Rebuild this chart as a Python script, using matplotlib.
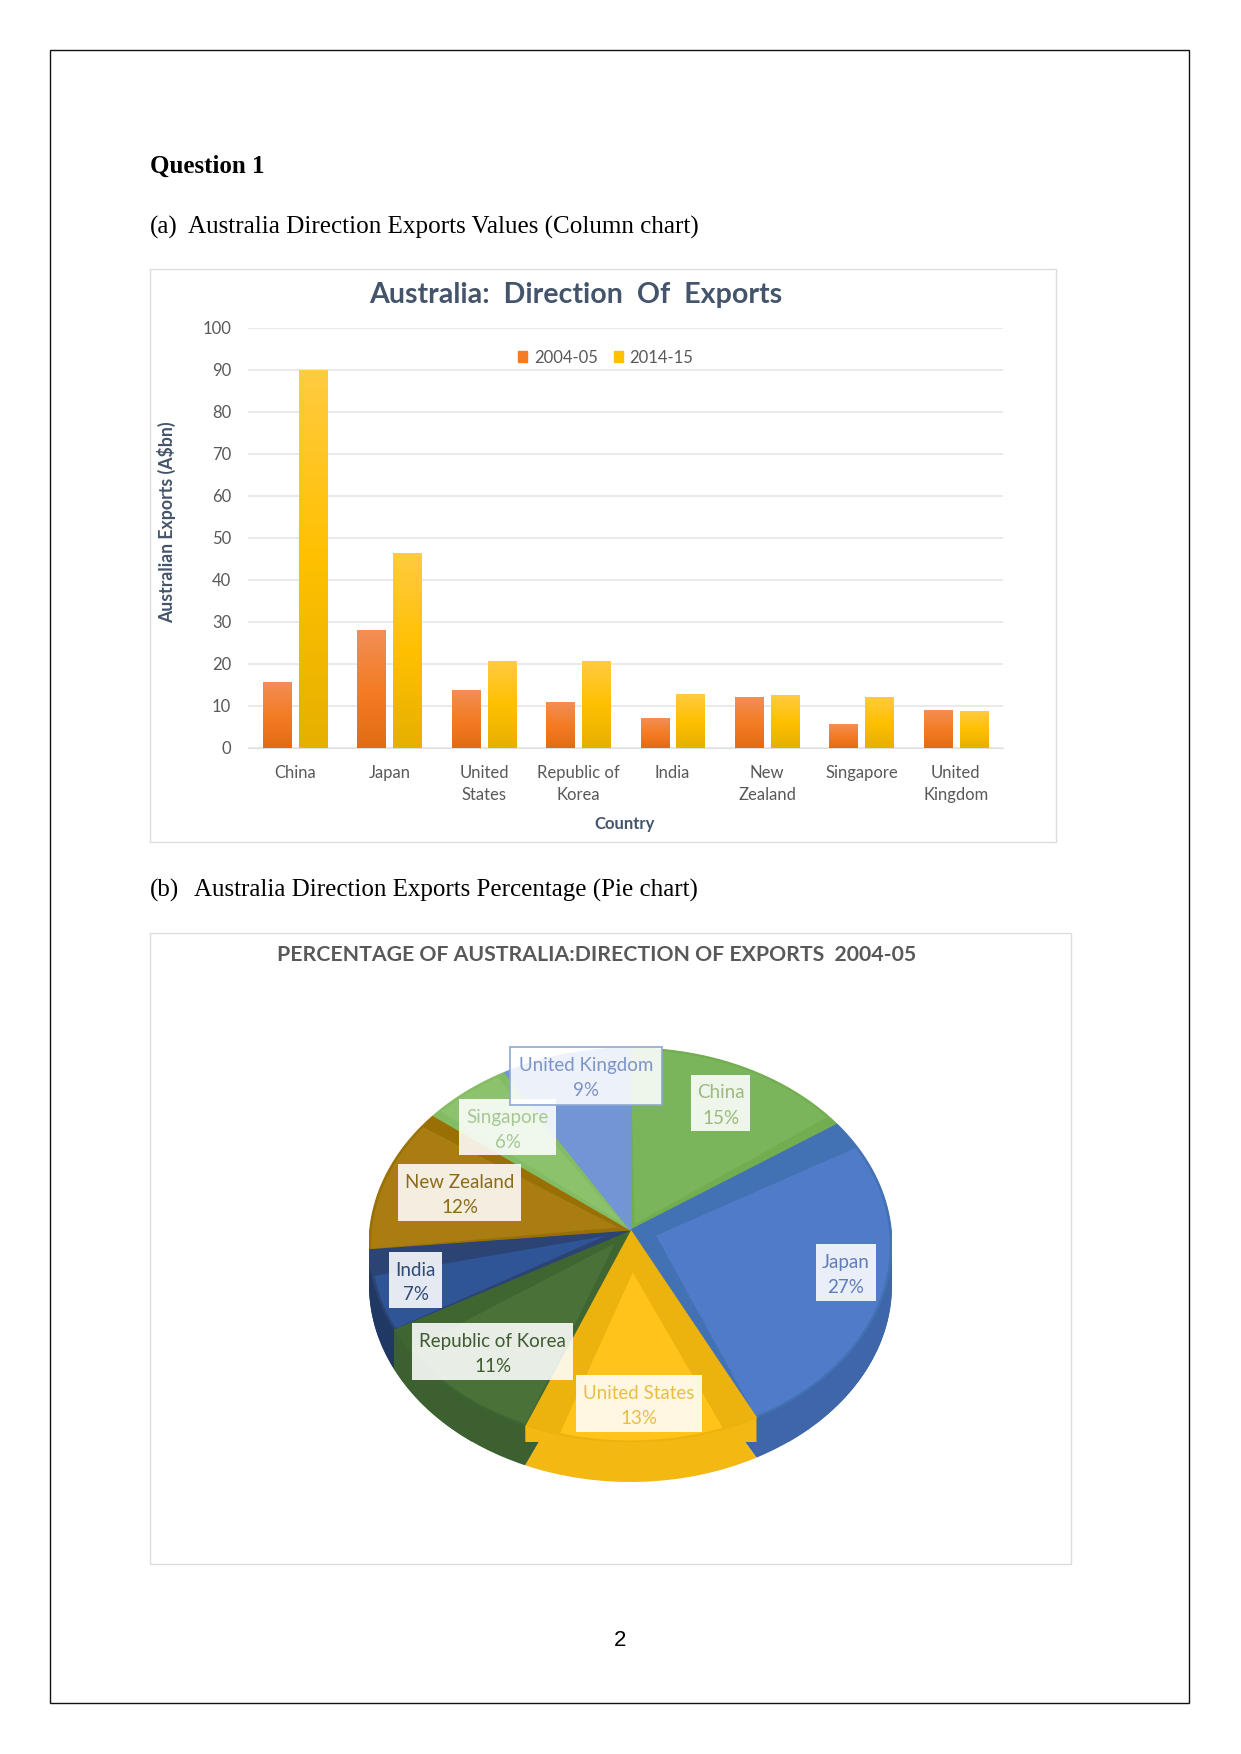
"""Page with a column chart and a faux-3D pie of Australian exports."""
import matplotlib
matplotlib.use("Agg")
import matplotlib.pyplot as plt
import numpy as np
from matplotlib.colors import LinearSegmentedColormap
from matplotlib.patches import Patch, Rectangle

W, H = 1241, 1754

countries = ["China", "Japan", "United\nStates", "Republic of\nKorea", "India",
             "New\nZealand", "Singapore", "United\nKingdom"]
exports_2004 = [15.7, 28.0, 13.8, 10.8, 7.1, 12.0, 5.6, 9.0]
exports_2014 = [90.0, 46.3, 20.5, 20.5, 12.7, 12.4, 12.0, 8.6]
year_labels = ["2004-05", "2014-15"]
y_ticks = list(range(0, 101, 10))

pie_names = ["China", "Japan", "United States", "Republic of Korea", "India",
             "New Zealand", "Singapore", "United Kingdom"]
pie_percent = ["15%", "27%", "13%", "11%", "7%", "12%", "6%", "9%"]
pie_shares = [14.5, 27.5, 14.6, 11.4, 6.7, 11.7, 5.6, 8.0]

# Slice colours: inner face, bevel band, side wall, label text
face_colors = ["#7AB55C", "#4F7BC8", "#FFC31A", "#4A7238", "#2F5597", "#A97D12", "#8CC26C", "#7295D5"]
band_colors = ["#72AE50", "#4272B4", "#ECB30E", "#3F6630", "#2B4474", "#9A7006", "#84BC63", "#7295D5"]
wall_colors = ["#5F9440", "#3F66A8", "#F3B912", "#3D6030", "#1F3864", "#7F5E08", "#70A050", "#5A7DBA"]
text_colors = ["#9DB97F", "#5F7DB9", "#E9BE45", "#3F5B30", "#2F4A78", "#8B6A18", "#A6C892", "#7C94C6"]

# Bevel width in degrees at each slice's leading and trailing edge (clockwise)
bevel_start = [0, 8, 8, 0, 0, 0, 2, 0]
bevel_end = [3, 0, 8, 7, 8, 4, 2, 0]

# Label boxes in page pixels: left, right, top, bottom
label_boxes = [(691, 750, 1075, 1131), (816, 876, 1244, 1301), (576, 702, 1375, 1432),
               (412, 573, 1323, 1380), (389, 442, 1252, 1308), (398, 521, 1164, 1221),
               (459, 556, 1099, 1155), (510, 662, 1047, 1105)]

GREY = "#595959"
UI_FONT = ["Lato", "DejaVu Sans"]
SERIF = ["Liberation Serif", "DejaVu Serif"]


def px_axes(fig, left, right, top, bottom, **kw):
    return fig.add_axes([left / W, 1 - bottom / H, (right - left) / W, (bottom - top) / H], **kw)


def gradient_bar(ax, bar, cmap):
    x, w, h = bar.get_x(), bar.get_width(), bar.get_height()
    ax.imshow(np.linspace(0, 1, 64).reshape(-1, 1), cmap=cmap, aspect="auto",
              extent=(x, x + w, 0, h), origin="upper", zorder=3)


def rim(theta, r=1.0, drop=0.0):
    # theta in degrees clockwise from twelve o'clock
    t = np.radians(theta)
    return r * np.sin(t), r * np.cos(t) - drop


def draw_column_chart(fig):
    ax = px_axes(fig, 248, 1003, 328, 748)
    ax.patch.set_alpha(0)
    orange = LinearSegmentedColormap.from_list("o", ["#F28E55", "#F47C24", "#E26C14"])
    yellow = LinearSegmentedColormap.from_list("y", ["#FFCB40", "#FFC000", "#E6B000"])
    x = np.arange(len(countries))
    for offset, vals, cmap in [(-0.19, exports_2004, orange), (0.19, exports_2014, yellow)]:
        for bar in ax.bar(x + offset, vals, width=0.30, color="none"):
            gradient_bar(ax, bar, cmap)
    ax.set_xlim(-0.5, 7.5)
    ax.set_ylim(0, 100)
    ax.set_xticks(x, countries, fontsize=12, color=GREY, family=UI_FONT, linespacing=1.5)
    ax.set_yticks(y_ticks, [str(v) for v in y_ticks], fontsize=12, color=GREY, family=UI_FONT)
    ax.tick_params(length=0, axis="x", pad=12)
    ax.tick_params(length=0, axis="y", pad=12)
    ax.grid(axis="y", color="#E6E6E6", linewidth=1.2, zorder=0)
    ax.set_axisbelow(True)
    for name, sp in ax.spines.items():
        sp.set_visible(name == "bottom")
        sp.set_color("#E0E0E0")
    handles = [Patch(color="#F47C24", label=year_labels[0]), Patch(color="#FFC000", label=year_labels[1])]
    ax.legend(handles=handles, ncol=2, frameon=False, loc="center", bbox_to_anchor=(0.474, 0.9295),
              handlelength=0.55, handleheight=0.6, handletextpad=0.4, columnspacing=0.95,
              labelcolor=GREY, prop={"family": UI_FONT, "size": 12})


def draw_pie(fig):
    # axes spans the top ellipse, so the rim has radius 1 in data units
    ax = px_axes(fig, 369, 892, 1048, 1442)
    ax.patch.set_alpha(0)
    drop = 0.203
    apex = (0.0, 0.076)
    vals = np.array(pie_shares)
    edges = np.concatenate([[0], np.cumsum(vals) / vals.sum() * 360])

    # lower ellipse first, then side walls between the two rims
    ax.pie(vals, colors=wall_colors, startangle=90, counterclock=False, center=(0, -drop), radius=1)
    for i in range(len(vals)):
        a, b = max(edges[i], 90), min(edges[i + 1], 270)
        if a >= b:
            continue
        th = np.linspace(a, b, 40)
        xt, yt = rim(th)
        xb, yb = rim(th, drop=drop)
        ax.fill(np.r_[xt, xb[::-1]], np.r_[yt, yb[::-1]], color=wall_colors[i], lw=0)

    for i in range(len(vals)):
        a, b = edges[i], edges[i + 1]
        th = np.linspace(a, b, 60)
        xr, yr = rim(th)
        ax.fill(np.r_[apex[0], xr], np.r_[apex[1], yr], facecolor=band_colors[i],
                edgecolor=band_colors[i], lw=0.8)
        # lighter inner face, inset from the slice edges by that slice's bevel
        inset = 0.2 * (bevel_start[i] + bevel_end[i]) / 16
        th = np.linspace(a + bevel_start[i], b - bevel_end[i], 60)
        xr, yr = rim(th, r=0.992)
        mx, my = rim((a + b) / 2)
        ix = apex[0] + inset * (mx - apex[0])
        iy = apex[1] + inset * (my - apex[1])
        ax.fill(np.r_[ix, xr], np.r_[iy, yr], color=face_colors[i], lw=0)

    ax.set_aspect("auto")
    ax.set_xlim(-1, 1)
    ax.set_ylim(-1, 1)
    ax.axis("off")


def draw_page(fig):
    page = px_axes(fig, 0, W, 0, H, zorder=5)
    page.patch.set_alpha(0)
    page.set_xlim(0, W)
    page.set_ylim(H, 0)
    page.axis("off")

    page.add_patch(Rectangle((50, 50), 1139, 1653, fill=False, ec="#111111", lw=1))
    page.add_patch(Rectangle((150, 269), 906, 573, fill=False, ec="#DCDCDC", lw=1))
    page.add_patch(Rectangle((150, 933), 921, 631, fill=False, ec="#DCDCDC", lw=1))

    page.text(150, 166.5, "Question 1", family=SERIF, fontsize=18, weight="bold", va="center")
    page.text(150, 227, "(a)", family=SERIF, fontsize=18, va="center")
    page.text(188, 227, "Australia Direction Exports Values (Column chart)", family=SERIF, fontsize=18.07, va="center")
    page.text(150, 890, "(b)", family=SERIF, fontsize=18, va="center")
    page.text(194, 890, "Australia Direction Exports Percentage (Pie chart)", family=SERIF, fontsize=18, va="center")
    page.text(620, 1640, "2", family=["Liberation Sans"], fontsize=16, ha="center", va="center")

    page.text(576, 295, "Australia:  Direction  Of  Exports", family=UI_FONT, fontsize=20.6, weight="bold",
              color="#44546A", ha="center", va="center")
    page.text(167, 522, "Australian Exports (A$bn)", family=UI_FONT, fontsize=12.7, weight="bold",
              color="#44546A", rotation=90, ha="center", va="center")
    page.text(625, 824, "Country", family=UI_FONT, fontsize=12, weight="bold", color="#44546A",
              ha="center", va="center")
    page.text(597, 955, "PERCENTAGE OF AUSTRALIA:DIRECTION OF EXPORTS  2004-05", family=UI_FONT,
              fontsize=15.35, weight="bold", color=GREY, ha="center", va="center")

    for name, pct, box, col in zip(pie_names, pie_percent, label_boxes, text_colors):
        left, right, top, bottom = box
        page.add_patch(Rectangle((left, top), right - left, bottom - top, fc="white", alpha=0.88, lw=0))
        cx, mid = (left + right) / 2, (top + bottom) / 2
        page.text(cx, mid - 10, name, family=UI_FONT, fontsize=13.5, color=col, ha="center", va="center")
        page.text(cx, mid + 15, pct, family=UI_FONT, fontsize=13.5, color=col, ha="center", va="center")
    # the UK label sits in a framed box
    left, right, top, bottom = label_boxes[-1]
    page.add_patch(Rectangle((left, top), right - left, bottom - top, fill=False, ec="#8FA8CF", lw=1.2))


def main():
    fig = plt.figure(figsize=(W / 100, H / 100), dpi=100, facecolor="white")
    draw_column_chart(fig)
    draw_pie(fig)
    draw_page(fig)
    fig.savefig("out.png", dpi=100)
    plt.close(fig)


if __name__ == "__main__":
    main()
